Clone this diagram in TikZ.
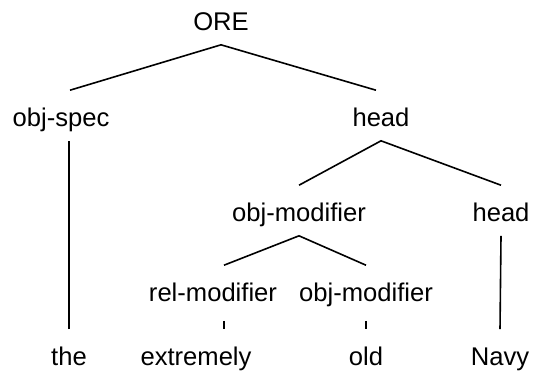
\documentclass[tikz,border=0pt]{standalone}
\usepackage{fontspec}
\setmainfont{Liberation Sans}
\usepackage{tikz}

\begin{document}
\begin{tikzpicture}[x=0.5pt,y=-0.5pt,line width=0.8pt,
  lbl/.style={anchor=base,inner sep=0pt,text height=17.5pt,text depth=7pt,font=\fontsize{12.8pt}{15pt}\selectfont},
  lowlbl/.style={lbl,text depth=9.5pt}]
\useasboundingbox (0,0) rectangle (534,372);
% labels, placed at (centre x, baseline)
\node[lbl] (ore) at (221,30) {ORE};
\node[lbl] (objspec) at (61,126) {obj-spec};
\node[lbl] (head) at (381,126) {head};
\node[lbl] (objmod) at (299,221) {obj-modifier};
\node[lbl] (headb) at (501,221) {head};
\node[lowlbl] (relmod) at (213,301) {rel-modifier};
\node[lowlbl] (objmodb) at (366,301) {obj-modifier};
\node[lbl] (the) at (69,365) {the};
\node[lbl] (extremely) at (196,365) {extremely};
\node[lbl] (old) at (366,365) {old};
\node[lbl] (navy) at (500,365) {Navy};
% branches
\draw ([xshift=4.5pt]objspec.north) -- (ore.south) -- ([xshift=-2.5pt]head.north);
\draw (the.north) -- (the.north |- objspec.south);
\draw (objmod.north) -- (head.south) -- (headb.north);
\draw (headb.south) -- (navy.north);
\draw ([xshift=5.5pt]relmod.north) -- (objmod.south) -- (objmodb.north);
\draw ([xshift=5.5pt]relmod.south) -- ([xshift=14pt]extremely.north);
\draw (objmodb.south) -- (old.north);
\end{tikzpicture}
\end{document}
